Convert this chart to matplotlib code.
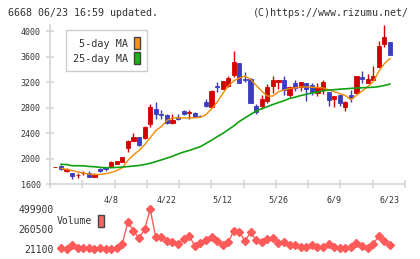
import numpy as np
import matplotlib.pyplot as plt
from matplotlib.patches import Patch

# daily candles (first one is the leftover close of the previous day)
opens = [1870, 1890, 1810, 1770, 1738, 1775, 1772, 1719, 1840, 1848, 1880,
         1920, 1955, 2175, 2285, 2340, 2320, 2545, 2780, 2700, 2685,
         2565, 2655, 2750, 2712, 2710, 2670, 2890, 2815, 3140, 3100,
         3145, 3310, 3500, 3250, 3245, 2825, 2825, 2910, 3140, 3205,
         3230, 3000, 3190, 3130, 3180, 3155, 3035, 3090, 3040, 2930,
         2995, 2805, 2995, 3035, 3285, 3190, 3230, 3440, 3795, 3825]
highs = [1870, 1900, 1850, 1780, 1772, 1803, 1808, 1772, 1850, 1870, 1960,
         1970, 2030, 2293, 2400, 2345, 2510, 2855, 2893, 2763, 2700,
         2700, 2700, 2770, 2765, 2740, 2690, 2930, 3080, 3206, 3225,
         3300, 3690, 3505, 3362, 3260, 2855, 3000, 3170, 3300, 3232,
         3295, 3140, 3230, 3205, 3185, 3180, 3190, 3230, 3045, 2985,
         3000, 2910, 3075, 3300, 3370, 3320, 3450, 3850, 4090, 3830]
lows = [1870, 1830, 1800, 1690, 1694, 1745, 1710, 1710, 1795, 1815, 1870,
        1915, 1950, 2105, 2280, 2200, 2310, 2500, 2622, 2617, 2550,
        2550, 2600, 2690, 2630, 2650, 2650, 2805, 2815, 3049, 3090,
        3130, 3285, 3180, 3206, 2870, 2700, 2775, 2877, 3030, 3100,
        2997, 2970, 3060, 3065, 2908, 3000, 2990, 3020, 2820, 2815,
        2820, 2750, 2890, 3030, 3190, 3190, 3230, 3440, 3755, 3625]
closes = [1870, 1840, 1845, 1725, 1745, 1780, 1719, 1766, 1808, 1842, 1945,
          1960, 2020, 2280, 2345, 2210, 2500, 2805, 2700, 2690, 2565,
          2605, 2620, 2700, 2728, 2660, 2665, 2830, 3065, 3118, 3215,
          3260, 3510, 3190, 3240, 2880, 2740, 2930, 3118, 3240, 3230,
          3075, 3125, 3115, 3200, 3100, 3050, 3125, 3205, 2920, 2980,
          2870, 2893, 2945, 3295, 3245, 3245, 3295, 3765, 3910, 3630]

ma5 = [1850, 1835, 1815, 1795, 1778, 1760, 1752, 1755, 1765, 1785,
       1815, 1860, 1975, 2060, 2130, 2220, 2330, 2440, 2505, 2600,
       2640, 2640, 2640, 2640, 2642, 2650, 2690, 2780, 2885, 3020,
       3140, 3220, 3265, 3295, 3245, 3150, 3060, 2982, 2982, 3050,
       3075, 3100, 3110, 3125, 3125, 3120, 3115, 3110, 3080, 3050,
       3020, 2990, 2925, 2995, 3060, 3130, 3205, 3370, 3490, 3570]
ma25 = [1913, 1910, 1891, 1891, 1890, 1880, 1875, 1865, 1860, 1860,
        1865, 1870, 1878, 1885, 1895, 1910, 1930, 1955, 1982, 2010,
        2040, 2075, 2105, 2130, 2160, 2190, 2240, 2290, 2345, 2395,
        2455, 2515, 2585, 2640, 2695, 2745, 2785, 2815, 2850, 2880,
        2910, 2945, 2965, 2990, 3010, 3030, 3045, 3065, 3075, 3082,
        3090, 3095, 3102, 3108, 3112, 3116, 3120, 3130, 3148, 3170]
volume = [29500, 17500, 69000, 29500, 29500, 29500, 17500, 29500, 17500, 17500,
          29500, 81000, 348000, 236600, 149200, 257000, 496300, 161200, 161200, 120400,
          108500, 77400, 137200, 176700, 60600, 92900, 128800, 161200, 116900, 69000,
          101300, 240200, 221000, 116900, 221000, 128800, 101300, 137200, 156400, 96500,
          101300, 69000, 69000, 41500, 48600, 69000, 41500, 41500, 81000, 41500,
          29500, 29500, 41500, 96500, 57000, 29500, 81000, 176700, 120400, 69000]

date_pos = [9, 19, 29, 39, 49, 59]
date_labels = ['4/8', '4/22', '5/12', '5/26', '6/9', '6/23']
price_ticks = [1600, 2000, 2400, 2800, 3200, 3600, 4000]
vol_ticks = [21100, 260500, 499900]

W, H = 420, 259
mono = 'DejaVu Sans Mono'
txt = '#333333'
grey = '#d6d6d6'
up_c = '#d40000'
down_c = '#3c3cbe'

fig = plt.figure(figsize=(W / 100, H / 100), dpi=100)
ax = fig.add_axes([50 / W, 1 - 184.3 / H, 355 / W, 159.3 / H])

x = np.arange(len(opens)) - 1
o = np.array(opens)
c = np.array(closes)
cols = [up_c if cc >= oo else down_c for oo, cc in zip(o, c)]
ax.vlines(x, lows, highs, colors=cols, lw=1)
ax.bar(x, np.abs(c - o), bottom=np.minimum(o, c), width=0.75,
       color=cols, edgecolor=cols, lw=0.6)

days = np.arange(len(ma5))
ax.plot(days, ma5, color='#f08a00', lw=1)
ax.plot(days, ma25, color='#10a010', lw=1.2)

ax.set_xlim(-1.97, 61.7)
ax.set_ylim(1600, 4095)
for s in ['top', 'right']:
    ax.spines[s].set_visible(False)
for s in ['left', 'bottom']:
    ax.spines[s].set_color(grey)
    ax.spines[s].set_linewidth(1.2)

ax.set_yticks(price_ticks)
ax.set_yticklabels([str(t) for t in price_ticks], family=mono, fontsize=6, color=txt)
ax.tick_params(axis='y', direction='inout', length=5.5, width=1.2, color=grey, pad=4)

ax.set_xticks(date_pos)
ax.set_xticklabels(date_labels, family=mono, fontsize=6, color=txt)
ax.tick_params(axis='x', which='major', length=0, pad=8)
ax.set_xticks(np.linspace(-1.97, 61.7, 12), minor=True)
ax.tick_params(axis='x', which='minor', direction='inout', length=6, width=1.2, color=grey)

leg = ax.legend(handles=[Patch(facecolor='#f7901e', edgecolor='#444444', label='5-day MA'),
                         Patch(facecolor='#18b418', edgecolor='#444444', label='25-day MA')],
                loc='upper left', bbox_to_anchor=(66 / W, 1 - 30 / H),
                bbox_transform=fig.transFigure, borderaxespad=0, markerfirst=False,
                prop={'family': mono, 'size': 7.3}, fancybox=False, framealpha=1,
                edgecolor='#cccccc', handlelength=0.6, handleheight=1.5,
                labelspacing=0.25, handletextpad=0.6, borderpad=0.7)
for t in leg.get_texts():
    t.set_color(txt)

# volume panel
vx = fig.add_axes([50 / W, 1 - 253 / H, 355 / W, 50 / H])
vx.plot(days, volume, color='#ff5a5a', lw=1, marker='D', ms=3.6)
vx.set_xlim(-1.97, 61.7)
vx.set_ylim(-26780, 571720)
for s in vx.spines.values():
    s.set_visible(False)
vx.set_xticks([])
vx.set_yticks(vol_ticks)
vx.set_yticklabels([str(t) for t in vol_ticks], family=mono, fontsize=7, color=txt)
vx.tick_params(axis='y', length=0, pad=-2.5)
vleg = vx.legend(handles=[Patch(facecolor='#ff6464', edgecolor='#444444', label='Volume')],
                 loc='center left', bbox_to_anchor=(57 / W, 1 - 221 / H),
                 bbox_transform=fig.transFigure, borderaxespad=0, markerfirst=False,
                 prop={'family': mono, 'size': 7}, frameon=False,
                 handlelength=0.6, handleheight=1.6, handletextpad=0.6, borderpad=0)
for t in vleg.get_texts():
    t.set_color(txt)

fig.text(8 / W, 1 - 12.5 / H, '6668 06/23 16:59 updated.', family=mono,
         fontsize=7.2, color=txt, va='center')
fig.text(409 / W, 1 - 12.5 / H, '(C)https://www.rizumu.net/', family=mono,
         fontsize=7.2, color=txt, va='center', ha='right')

fig.savefig('out.png', dpi=100)
